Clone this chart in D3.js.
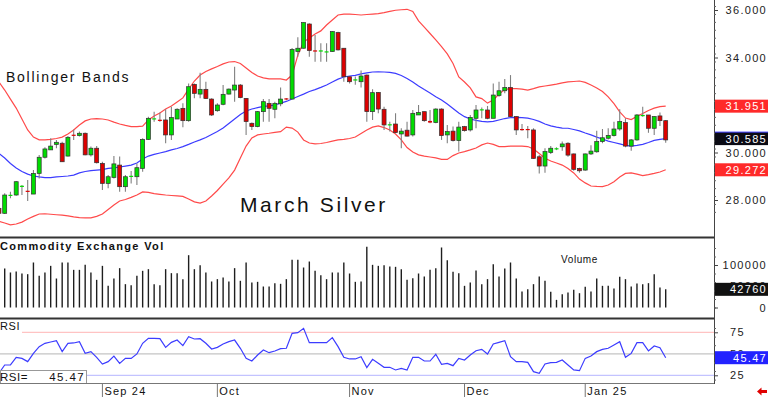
<!DOCTYPE html>
<html>
<head>
<meta charset="utf-8">
<script src="https://cdn.jsdelivr.net/npm/d3@7"></script>
<style>
body { margin: 0; background: #fff; }
svg { display: block; font-family: "Liberation Sans", Arial, sans-serif; }
</style>
</head>
<body>
<svg id="chart" width="768" height="397"></svg>
<script>
// daily bars, March Silver (price)
var opens = [27.65,27.44,28.19,28.21,28.56,28.39,28.25,29.12,29.80,30.11,
	30.34,30.39,29.85,30.75,30.71,30.81,29.90,30.18,29.54,28.70,
	28.95,29.47,28.56,28.98,28.98,29.33,30.55,31.41,31.38,31.37,
	30.74,31.41,31.86,31.34,32.87,32.46,32.66,32.25,31.76,32.03,
	32.46,32.63,32.84,32.28,31.23,31.09,31.72,32.07,31.82,32.05,
	32.28,32.25,34.25,34.39,35.41,34.30,34.28,34.24,34.25,35.05,
	34.39,33.19,33.06,32.98,33.26,31.72,32.53,31.82,31.17,31.20,
	30.78,30.94,30.74,31.58,31.72,31.33,31.26,31.83,30.74,30.90,
	30.50,31.09,30.95,31.44,31.80,31.79,31.44,32.40,32.60,32.74,
	31.51,30.99,30.99,30.95,29.82,29.43,30.00,30.16,30.24,30.39,
	29.94,29.33,29.26,29.94,30.03,30.46,30.60,30.71,30.99,31.26,
	30.27,30.53,31.55,31.58,31.02,31.54,31.34];
var highs = [27.70,28.28,28.35,28.80,28.63,28.84,29.26,29.90,30.22,30.60,
	30.53,30.45,30.70,30.97,30.88,30.84,30.25,30.27,29.61,29.05,
	29.85,29.83,29.05,29.22,29.54,30.60,31.51,31.72,31.68,31.82,
	31.93,31.86,32.07,32.91,32.91,33.36,32.98,32.28,32.07,32.84,
	32.70,33.61,32.88,32.30,31.26,31.75,32.25,32.25,32.14,32.74,
	32.30,34.40,34.85,35.47,35.44,34.95,34.60,34.60,35.12,35.08,
	34.40,33.20,33.20,33.45,33.28,32.66,32.55,31.93,31.30,31.65,
	31.02,31.30,31.79,32.00,31.72,31.79,31.86,31.86,31.16,31.09,
	31.30,31.12,31.58,32.00,31.90,31.96,32.91,32.98,33.09,33.26,
	31.54,31.20,31.12,31.02,29.89,30.18,30.27,30.22,30.46,30.43,
	29.96,29.36,29.96,30.31,30.92,30.99,31.02,31.30,31.82,31.44,
	30.57,31.62,31.93,31.58,31.54,31.68,31.37];
var lows = [27.40,27.41,28.07,28.18,28.21,27.96,28.25,28.91,29.75,30.11,
	30.18,29.60,29.83,30.53,30.67,29.88,29.83,29.54,28.42,28.49,
	28.91,28.35,28.35,28.70,28.63,29.19,30.53,31.30,31.30,30.39,
	30.53,31.41,31.06,31.30,32.28,32.28,32.25,31.54,31.72,31.99,
	32.44,32.14,32.28,30.74,30.95,31.06,31.30,31.30,31.44,31.95,
	32.20,32.25,34.03,34.38,34.03,33.82,33.82,33.82,34.24,34.30,
	32.98,32.91,32.85,32.74,31.30,31.37,31.65,30.95,30.88,30.81,
	30.18,30.67,30.67,31.58,31.30,31.23,31.23,30.53,30.39,30.46,
	30.04,30.88,30.88,31.02,31.44,31.40,31.44,32.35,32.49,31.48,
	30.74,30.92,30.60,29.73,29.12,29.15,29.94,30.10,30.07,29.82,
	29.23,29.15,29.23,29.89,29.99,30.39,30.55,30.67,30.92,30.22,
	30.07,30.50,31.51,30.83,30.74,31.12,30.41];
var closes = [27.44,28.21,28.22,28.77,28.60,28.35,29.12,29.80,30.15,30.27,
	30.43,29.61,30.64,30.73,30.81,29.90,30.18,29.57,28.70,28.98,
	29.52,28.56,28.98,29.02,29.36,30.55,31.44,31.44,31.36,30.74,
	31.47,31.82,31.34,32.77,32.49,32.66,32.27,31.58,32.00,32.45,
	32.67,32.84,32.31,31.30,31.09,31.72,32.14,31.86,32.07,32.25,
	32.26,34.34,34.39,35.47,34.29,34.28,34.30,34.26,35.09,34.32,
	33.19,32.98,33.08,33.22,31.72,32.52,31.83,31.16,31.19,30.84,
	30.90,30.69,31.65,31.69,31.34,31.26,31.83,30.71,30.88,30.50,
	31.07,30.92,31.48,31.79,31.82,31.44,32.42,32.60,32.74,31.51,
	30.95,30.98,30.98,29.75,29.43,30.04,30.18,30.18,30.36,29.89,
	29.29,29.23,29.94,30.06,30.46,30.62,30.72,30.99,31.30,30.27,
	30.53,31.58,31.58,31.02,31.51,31.34,30.53];

// Bollinger bands as drawn
var bbUpper = [32.97,32.63,32.25,31.87,31.41,30.95,30.65,30.53,30.53,30.55,
	30.59,30.65,30.78,30.95,31.16,31.33,31.41,31.43,31.41,31.37,
	31.28,31.20,31.14,31.09,31.09,31.11,31.37,31.54,31.66,31.83,
	31.96,32.13,32.30,32.67,33.01,33.26,33.41,33.52,33.62,33.73,
	33.81,33.83,33.75,33.56,33.37,33.22,33.14,33.10,33.10,33.10,
	33.05,33.26,34.10,34.65,34.82,34.99,35.12,35.37,35.58,35.79,
	35.83,35.83,35.81,35.79,35.81,35.83,35.85,35.89,35.94,35.99,
	36.01,36.03,35.94,35.54,35.28,35.01,34.74,34.46,34.15,33.75,
	33.18,32.97,32.72,32.34,32.27,32.08,32.21,32.46,32.65,32.69,
	32.69,32.67,32.63,32.69,32.76,32.80,32.84,32.88,32.93,32.97,
	32.99,33.01,32.95,32.84,32.72,32.57,32.34,32.06,31.71,31.45,
	31.39,31.52,31.64,31.77,31.87,31.93,31.951];
var bbMid = [29.96,29.77,29.54,29.35,29.20,29.09,29.01,28.97,28.94,28.94,
	28.97,28.99,29.01,29.05,29.14,29.20,29.24,29.26,29.28,29.33,
	29.35,29.39,29.43,29.47,29.56,29.73,29.85,29.92,29.98,30.04,
	30.11,30.17,30.25,30.34,30.44,30.53,30.63,30.76,30.88,31.03,
	31.22,31.41,31.60,31.75,31.83,31.89,31.94,31.96,32.00,32.08,
	32.15,32.25,32.36,32.46,32.57,32.65,32.74,32.84,32.97,33.09,
	33.18,33.22,33.25,33.31,33.35,33.39,33.40,33.39,33.37,33.33,
	33.24,33.12,32.97,32.80,32.65,32.51,32.35,32.21,32.04,31.85,
	31.66,31.51,31.41,31.35,31.31,31.29,31.31,31.37,31.43,31.47,
	31.48,31.47,31.45,31.39,31.31,31.20,31.12,31.07,31.03,31.02,
	30.97,30.91,30.82,30.74,30.65,30.57,30.48,30.42,30.36,30.30,
	30.27,30.30,30.34,30.42,30.51,30.55,30.585];
var bbLower = [27.10,27.03,26.95,26.99,27.07,27.20,27.31,27.41,27.42,27.40,
	27.38,27.36,27.33,27.29,27.26,27.25,27.25,27.31,27.41,27.60,
	27.79,27.96,28.02,28.11,28.21,28.34,28.32,28.27,28.24,28.21,
	28.19,28.17,28.15,28.04,27.92,27.87,27.96,28.17,28.40,28.67,
	28.93,29.26,29.77,30.27,30.61,30.74,30.78,30.81,30.85,30.88,
	31.07,31.03,30.86,30.53,30.40,30.36,30.38,30.42,30.48,30.53,
	30.55,30.59,30.65,30.80,30.95,31.07,31.12,31.05,30.95,30.78,
	30.53,30.21,30.02,29.90,29.85,29.81,29.77,29.71,29.71,29.87,
	29.98,30.04,30.11,30.19,30.32,30.40,30.34,30.25,30.25,30.27,
	30.27,30.27,30.25,30.15,29.96,29.76,29.64,29.56,29.47,29.33,
	29.14,28.88,28.72,28.59,28.57,28.56,28.63,28.77,28.97,29.12,
	29.14,29.09,29.03,29.07,29.12,29.18,29.272];

var volumes = [85000,91800,82400,84700,80000,78400,105900,74500,82400,98000,
	68200,105900,105900,88600,88600,100400,82400,65100,98000,51000,
	68200,92600,54900,52600,74500,86300,90200,54900,52600,90200,
	80800,80800,66700,123100,90200,99600,82400,61200,66700,70600,
	61200,92600,62800,105900,58800,60400,49400,49400,57300,55700,
	66700,112200,112200,94100,108200,86300,76100,66700,82400,82400,
	105900,80000,60400,61200,142700,100400,98000,99600,96500,95700,
	90200,65100,69000,80000,72900,88600,92500,141200,111400,83900,
	80800,51000,58800,87100,54900,66700,102000,72900,91800,105900,
	68200,37600,43100,54900,72900,62700,36900,18000,31400,35300,
	41600,33700,48600,37600,68200,51000,51000,44700,72200,66700,
	49400,56500,54900,57300,78400,47100,42760];

var rsi = [27.3,37.0,37.0,45.9,44.7,40.9,50.5,58.3,62.2,63.7,
	65.3,52.5,62.2,62.6,64.1,50.5,52.5,45.9,38.1,40.9,
	47.4,38.9,44.7,44.7,49.8,62.2,68.0,68.0,67.6,57.5,
	63.3,66.0,59.5,69.9,67.2,67.6,62.2,55.6,57.5,61.4,
	64.1,66.0,56.4,44.7,41.6,48.6,54.4,51.3,53.3,56.0,
	56.4,73.8,74.6,79.6,62.9,62.9,62.9,62.9,68.8,58.3,
	45.9,44.0,44.0,46.7,33.9,43.6,38.9,34.3,34.3,31.2,
	33.1,31.2,45.9,45.9,41.6,41.6,49.4,37.8,38.9,36.2,
	44.7,42.8,48.6,53.6,55.2,49.8,61.4,63.3,65.3,46.7,
	40.9,40.9,40.1,29.2,27.3,38.1,39.7,40.1,42.8,37.0,
	31.2,30.4,44.7,47.4,52.5,55.2,56.4,60.2,64.1,45.9,
	50.5,62.9,62.9,53.3,59.1,57.1,45.47];

// first bar of each month
var monthLabels = ["Sep 24", "Oct", "Nov", "Dec", "Jan 25"];
var monthBars = [18, 38, 61, 81, 102];

var priceTicks = [28, 30, 32, 34, 36];
var volTicks = [0, 50000, 100000];
var rsiTicks = [25, 50, 75];

var svg = d3.select("#chart");
var plotW = 714;

var x = d3.scaleLinear().domain([0, closes.length - 1]).range([-1.05, 665.7]);
var yP = d3.scaleLinear().domain([28, 36]).range([200, 10]);
var yV = d3.scaleLinear().domain([0, 100000]).range([307.5, 265]);
var yR = d3.scaleLinear().domain([25, 75]).range([375.3, 332.3]);

var defs = svg.append("defs");
var addClip = function(id, top, h) {
	defs.append("clipPath").attr("id", id).append("rect")
		.attr("x", 0).attr("y", top).attr("width", plotW).attr("height", h);
};
addClip("clipP", 0, 237);
addClip("clipV", 239, 79);
addClip("clipR", 319, 64);

// ---- price panel
var gP = svg.append("g").attr("clip-path", "url(#clipP)");

var bandLine = d3.line().x(function(d, i) { return x(i); }).y(function(d) { return yP(d); });
gP.append("path").attr("d", bandLine(bbUpper)).attr("fill", "none").attr("stroke", "#ff4a4a").attr("stroke-width", 1.2);
gP.append("path").attr("d", bandLine(bbLower)).attr("fill", "none").attr("stroke", "#ff4a4a").attr("stroke-width", 1.2);
gP.append("path").attr("d", bandLine(bbMid)).attr("fill", "none").attr("stroke", "#3c3cff").attr("stroke-width", 1.2);

var candle = gP.selectAll("g.candle").data(closes).enter().append("g").attr("class", "candle");
candle.append("line")
	.attr("x1", function(d, i) { return x(i); })
	.attr("x2", function(d, i) { return x(i); })
	.attr("y1", function(d, i) { return yP(highs[i]); })
	.attr("y2", function(d, i) { return yP(lows[i]); })
	.attr("stroke", "#808080").attr("stroke-width", 1.1);
candle.append("rect")
	.attr("x", function(d, i) { return x(i) - 2; })
	.attr("width", 4)
	.attr("y", function(d, i) { return yP(Math.max(opens[i], d)); })
	.attr("height", function(d, i) { return Math.max(1.2, Math.abs(yP(opens[i]) - yP(d))); })
	.attr("fill", function(d, i) { return d >= opens[i] ? "#00dd00" : "#dd0000"; })
	.attr("stroke", function(d, i) { return Math.abs(yP(opens[i]) - yP(d)) < 2 ? "none" : "#303030"; })
	.attr("stroke-width", 0.7);

svg.append("text").attr("x", 6).attr("y", 82).text("Bollinger Bands")
	.style("font-size", "14px").style("letter-spacing", "1.75px").attr("fill", "#111");
svg.append("text").attr("x", 240).attr("y", 212).text("March Silver")
	.style("font-size", "21px").style("letter-spacing", "2.6px").attr("fill", "#111");

// ---- volume panel
var gV = svg.append("g").attr("clip-path", "url(#clipV)");
gV.selectAll("line.vol").data(volumes).enter().append("line").attr("class", "vol")
	.attr("x1", function(d, i) { return x(i); })
	.attr("x2", function(d, i) { return x(i); })
	.attr("y1", yV(0))
	.attr("y2", function(d) { return yV(d); })
	.attr("stroke", "#1e1e1e").attr("stroke-width", 1.4);

svg.append("text").attr("x", 0).attr("y", 250).text("Commodity Exchange Vol")
	.style("font-size", "11px").style("font-weight", "bold").style("letter-spacing", "1.35px").attr("fill", "#111");
svg.append("text").attr("x", 561).attr("y", 263).text("Volume")
	.style("font-size", "10px").style("letter-spacing", "0.6px").attr("fill", "#111");

// ---- RSI panel
svg.append("line").attr("x1", 22).attr("x2", plotW).attr("y1", yR(75)).attr("y2", yR(75)).attr("stroke", "#ffb4b4");
svg.append("line").attr("x1", 0).attr("x2", plotW).attr("y1", yR(50)).attr("y2", yR(50)).attr("stroke", "#c4c4c4").attr("stroke-width", 1.3);
svg.append("line").attr("x1", 86).attr("x2", plotW).attr("y1", yR(25)).attr("y2", yR(25)).attr("stroke", "#b4b4ff");

var gR = svg.append("g").attr("clip-path", "url(#clipR)");
gR.append("path")
	.attr("d", d3.line().x(function(d, i) { return x(i); }).y(function(d) { return yR(d); })(rsi))
	.attr("fill", "none").attr("stroke", "#3c3cff").attr("stroke-width", 1.2);

svg.append("text").attr("x", 0).attr("y", 330).text("RSI")
	.style("font-size", "11px").style("letter-spacing", "0.6px").attr("fill", "#111");
svg.append("rect").attr("x", 0.5).attr("y", 370.5).attr("width", 86).attr("height", 13)
	.attr("fill", "#fff").attr("stroke", "#999");
svg.append("text").attr("x", 0).attr("y", 381).text("RSI=")
	.style("font-size", "11.5px").style("letter-spacing", "0.5px").attr("fill", "#111");
svg.append("text").attr("x", 85).attr("y", 381).attr("text-anchor", "end").text(d3.format(".2f")(rsi[rsi.length - 1]))
	.style("font-size", "11.5px").style("letter-spacing", "1.4px").attr("fill", "#111");

// ---- frame
svg.append("line").attr("x1", 0).attr("x2", plotW).attr("y1", 237.5).attr("y2", 237.5).attr("stroke", "#333").attr("stroke-width", 2);
svg.append("line").attr("x1", 0).attr("x2", plotW).attr("y1", 318.5).attr("y2", 318.5).attr("stroke", "#333").attr("stroke-width", 2);
svg.append("line").attr("x1", 0).attr("x2", plotW).attr("y1", 383.5).attr("y2", 383.5).attr("stroke", "#777");
svg.append("line").attr("x1", plotW + 0.5).attr("x2", plotW + 0.5).attr("y1", 0).attr("y2", 384).attr("stroke", "#444");

// ---- month axis
monthBars.forEach(function(b, k) {
	svg.append("line").attr("x1", x(b)).attr("x2", x(b)).attr("y1", 383.5).attr("y2", 397).attr("stroke", "#777");
	svg.append("text").attr("x", x(b) + 2).attr("y", 395).text(monthLabels[k])
		.style("font-size", "11px").style("letter-spacing", "1.2px").attr("fill", "#111");
});

// ---- right axes
var rightAxis = function(scale, ticks, minor, fmt, textX, anchor) {
	svg.append("g").attr("transform", "translate(" + plotW + ",0)")
		.call(d3.axisRight(scale).tickValues(minor).tickFormat("").tickSize(2))
		.call(function(g) { g.select(".domain").remove(); g.selectAll("line").attr("stroke", "#666"); });
	var g = svg.append("g").attr("transform", "translate(" + plotW + ",0)")
		.call(d3.axisRight(scale).tickValues(ticks).tickFormat(fmt).tickSize(4));
	g.select(".domain").remove();
	g.attr("font-family", null).attr("font-size", null);
	g.selectAll("line").attr("stroke", "#444");
	g.selectAll("text").attr("x", textX - plotW).attr("text-anchor", anchor).attr("fill", "#222")
		.style("font-size", "11px").style("letter-spacing", "1.3px");
};
rightAxis(yP, priceTicks, d3.range(27.5, 36.2, 1 / 3), d3.format(".3f"), 767, "end");
rightAxis(yV, volTicks, d3.range(0, 160000, 20000), d3.format("d"), 767, "end");
rightAxis(yR, rsiTicks, d3.range(20, 85, 10), d3.format("d"), 730, "start");

// ---- last value boxes
var valueBox = function(yc, txt, fill, topLine) {
	svg.append("rect").attr("x", 715).attr("y", yc - 6.5).attr("width", 53).attr("height", 13).attr("fill", fill);
	if (topLine) {
		svg.append("line").attr("x1", 715).attr("x2", 768).attr("y1", yc - 6.5).attr("y2", yc - 6.5).attr("stroke", topLine);
	}
	svg.append("text").attr("x", 767).attr("y", yc + 4).attr("text-anchor", "end").text(txt)
		.attr("fill", "#fff").style("font-size", "11px").style("letter-spacing", "1.3px");
};
var last = closes.length - 1;
valueBox(yP(bbUpper[last]), d3.format(".3f")(bbUpper[last]), "#ff2a2a");
valueBox(yP(bbMid[last]), d3.format(".3f")(bbMid[last]), "#0a0a14", "#3c3cff");
valueBox(yP(bbLower[last]), d3.format(".3f")(bbLower[last]), "#ff2a2a");
valueBox(yV(volumes[last]), d3.format("d")(volumes[last]), "#111");
valueBox(yR(rsi[last]), d3.format(".2f")(rsi[last]), "#2222ff");

// small red arrow at bottom right
svg.append("path").attr("d", "M757,391.5 L761.5,387.5 L761.5,390 L767,390 L767,393 L761.5,393 L761.5,395.5 Z").attr("fill", "#e00000");
</script>
</body>
</html>
